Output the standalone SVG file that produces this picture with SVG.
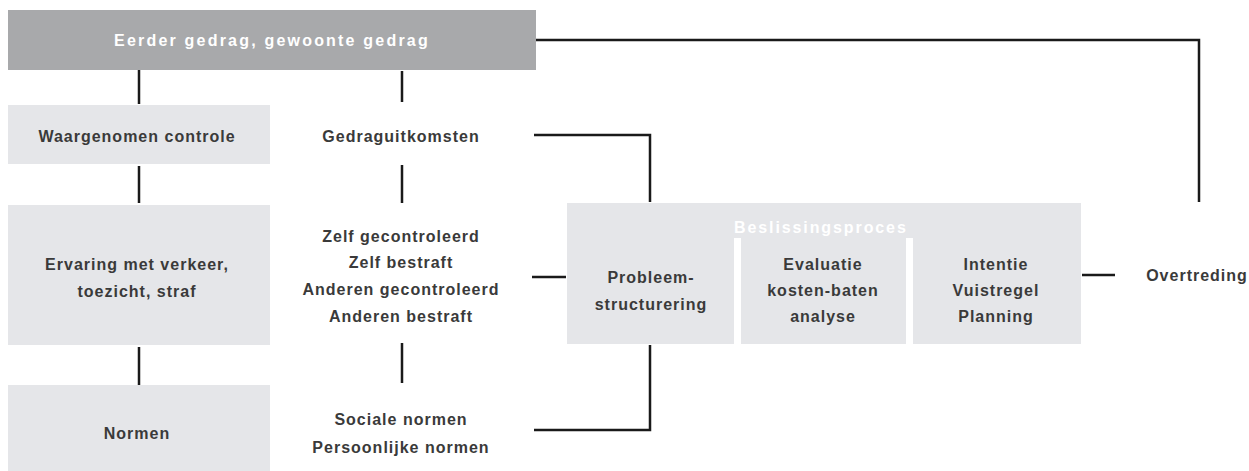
<svg xmlns="http://www.w3.org/2000/svg" width="1249" height="471" viewBox="0 0 1249 471">
<style>
.box{fill:#e5e6e9}
.dark{fill:#a8a9ab}
.t{font-family:"Liberation Sans",Arial,sans-serif;font-weight:bold;font-size:16px;fill:#3a3a3a;letter-spacing:1px;text-anchor:middle}
.w{fill:#ffffff;letter-spacing:2.2px}
.ln{stroke:#1a1a1a;stroke-width:2.5;fill:none}
</style>
<rect width="1249" height="471" fill="#ffffff"/>
<g id="connectors">
<path class="ln" d="M139 70V104M139 166V203M139 347V385"/>
<path class="ln" d="M402 71V102M402 165V203M402 343V383"/>
<path class="ln" d="M536 40H1199V202"/>
<path class="ln" d="M534 135H650V202"/>
<path class="ln" d="M534 430H650V345"/>
<path class="ln" d="M532 277H566"/>
<path class="ln" d="M733 275H741M905 275H913"/>
<path class="ln" d="M1082 275H1115"/>
</g>
<g id="n-eerder">
<rect class="dark" x="8" y="10" width="528" height="60"/>
<text class="t w" x="272" y="46">Eerder gedrag, gewoonte gedrag</text>
</g>
<g id="n-waargenomen">
<rect class="box" x="8" y="105" width="262" height="59"/>
<text class="t" x="137" y="142">Waargenomen controle</text>
</g>
<g id="n-ervaring">
<rect class="box" x="8" y="205" width="262" height="140"/>
<text class="t" x="137" y="270">Ervaring met verkeer,</text>
<text class="t" x="137" y="297">toezicht, straf</text>
</g>
<g id="n-normen">
<rect class="box" x="8" y="385" width="262" height="86"/>
<text class="t" x="137" y="439">Normen</text>
</g>
<g id="n-gedraguitkomsten">
<text class="t" x="401" y="142">Gedraguitkomsten</text>
</g>
<g id="n-gecontroleerd">
<text class="t" x="401" y="242">Zelf gecontroleerd</text>
<text class="t" x="401" y="268">Zelf bestraft</text>
<text class="t" x="401" y="295">Anderen gecontroleerd</text>
<text class="t" x="401" y="322">Anderen bestraft</text>
</g>
<g id="n-sociale">
<text class="t" x="401" y="425">Sociale normen</text>
<text class="t" x="401" y="453">Persoonlijke normen</text>
</g>
<g id="n-beslissingsproces">
<rect class="box" x="567" y="203" width="514" height="141"/>
<rect x="734" y="238" width="7" height="106" fill="#ffffff"/>
<rect x="906" y="238" width="7" height="106" fill="#ffffff"/>
<text class="t w" x="734" y="233" style="text-anchor:start;letter-spacing:1.9px">Beslissingsproces</text>
<g id="n-probleem">
<text class="t" x="651" y="283">Probleem-</text>
<text class="t" x="651" y="310">structurering</text>
</g>
<g id="n-evaluatie">
<text class="t" x="823" y="270">Evaluatie</text>
<text class="t" x="823" y="296">kosten-baten</text>
<text class="t" x="823" y="322">analyse</text>
</g>
<g id="n-intentie">
<text class="t" x="996" y="270">Intentie</text>
<text class="t" x="996" y="296">Vuistregel</text>
<text class="t" x="996" y="322">Planning</text>
</g>
</g>
<g id="n-overtreding">
<text class="t" x="1197" y="281">Overtreding</text>
</g>
</svg>
